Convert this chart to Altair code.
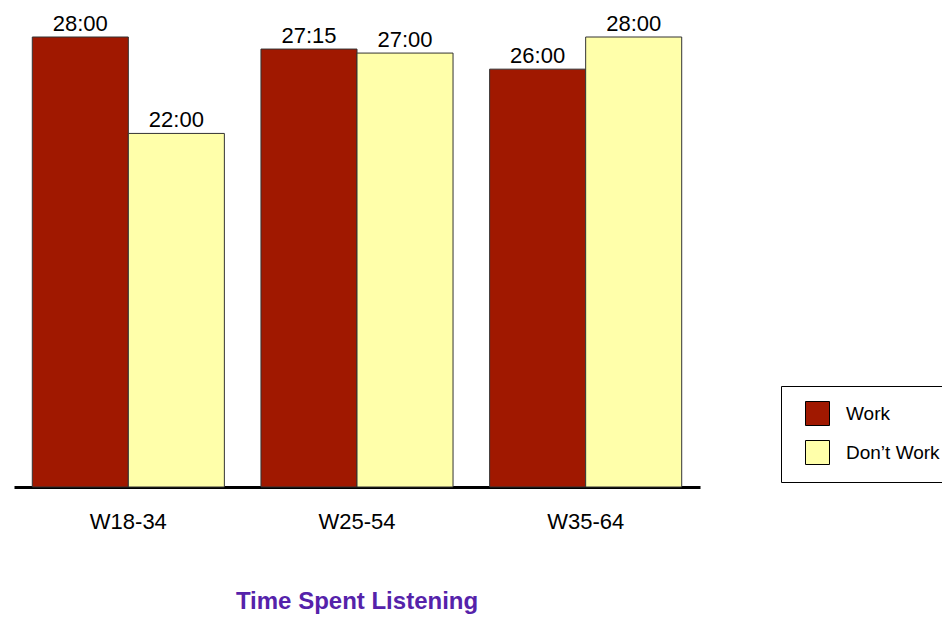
import altair as alt
import pandas as pd

groups = ["W18-34", "W25-54", "W35-64"]
series = ["Work", "Don\u2019t Work"]
work_minutes = [28.0, 27.25, 26.0]
dont_work_minutes = [22.0, 27.0, 28.0]
work_labels = ["28:00", "27:15", "26:00"]
dont_work_labels = ["22:00", "27:00", "28:00"]
colors = ["#A01800", "#FFFFAA"]

rows = []
for g, v, l in zip(groups, work_minutes, work_labels):
    rows.append({"group": g, "series": series[0], "minutes": v, "label": l})
for g, v, l in zip(groups, dont_work_minutes, dont_work_labels):
    rows.append({"group": g, "series": series[1], "minutes": v, "label": l})
df = pd.DataFrame(rows)

FONT = "Liberation Sans, Arial, Helvetica, sans-serif"

x_enc = alt.X("group:N", sort=groups,
              scale=alt.Scale(paddingInner=0.16, paddingOuter=0.08),
              axis=alt.Axis(title=None, labelAngle=0, ticks=False, tickSize=0,
                            domainColor="black", domainWidth=3,
                            labelFont=FONT, labelFontSize=22, labelColor="black",
                            labelPadding=41, labelBaseline="alphabetic"))
xoff = alt.XOffset("series:N", sort=series, scale=alt.Scale(paddingInner=0, paddingOuter=0))
y_enc = alt.Y("minutes:Q", scale=alt.Scale(domain=[0, 28], nice=False, zero=True), axis=None)

bars = alt.Chart(df).mark_bar(stroke="#333333", strokeWidth=1).encode(
    x=x_enc, xOffset=xoff, y=y_enc,
    color=alt.Color("series:N", sort=series,
                    scale=alt.Scale(domain=series, range=colors),
                    legend=alt.Legend(title=None, orient="none", legendX=767, legendY=349,
                                      symbolType="square", symbolSize=576,
                                      symbolStrokeColor="black", symbolStrokeWidth=1,
                                      symbolOffset=9, labelOffset=16,
                                      labelFont=FONT, labelFontSize=19, labelColor="black",
                                      rowPadding=10, padding=15,
                                      strokeColor="black", fillColor="white",
                                      symbolOpacity=1)),
)

labels = alt.Chart(df).mark_text(font=FONT, fontSize=22, color="black",
                                 baseline="alphabetic", dy=-6).encode(
    x=x_enc, xOffset=xoff, y=y_enc, text="label:N"
)

chart = alt.layer(bars, labels).properties(
    width=686, height=450,
    padding={"left": 6, "top": 29, "right": 242, "bottom": 132},
    autosize=alt.AutoSizeParams(type="none"),
    background="white",
    title=alt.TitleParams("Time Spent Listening", orient="bottom", anchor="middle",
                          font=FONT, fontSize=24, fontWeight="bold", color="#5522AA",
                          offset=58),
).configure_view(strokeOpacity=0, strokeWidth=0)

chart.save("out.html", embed_options={"renderer": "svg", "actions": False})
